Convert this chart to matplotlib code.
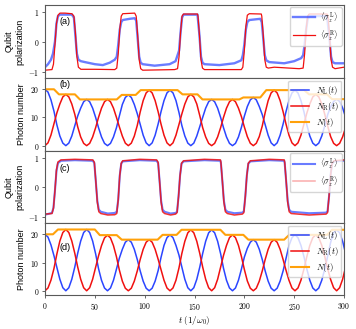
import matplotlib
matplotlib.use('Agg')
import matplotlib.pyplot as plt
from matplotlib.ticker import FuncFormatter

# ---- photon numbers, sampled from the figure ----
T_PH = [0.0, 3.0, 6.0, 9.0, 11.9, 14.9, 17.9, 20.9, 23.9, 26.9,
        29.9, 32.8, 35.8, 38.8, 41.8, 44.8, 47.8, 50.8, 53.7, 56.7,
        59.7, 62.7, 65.7, 68.7, 71.7, 74.6, 77.6, 80.6, 83.6, 86.6,
        89.6, 92.6, 95.5, 98.5, 101.5, 104.5, 107.5, 110.5, 113.5, 116.4,
        119.4, 122.4, 125.4, 128.4, 131.4, 134.4, 137.3, 140.3, 143.3, 146.3,
        149.3, 152.3, 155.3, 158.2, 161.2, 164.2, 167.2, 170.2, 173.2, 176.2,
        179.1, 182.1, 185.1, 188.1, 191.1, 194.1, 197.1, 200.0, 203.0, 206.0,
        209.0, 212.0, 215.0, 218.0, 220.9, 223.9, 226.9, 229.9, 232.9, 235.9,
        238.9, 241.8, 244.8, 247.8, 250.8, 253.8, 256.8, 259.8, 262.7, 265.7,
        268.7, 271.7, 274.7, 277.7, 280.7, 283.6, 286.6, 289.6, 292.6, 295.6,
        298.6, 301.6]

NL_B = [20.0, 19.01, 16.23, 12.23, 7.39, 3.43, 0.90, 0.0, 0.90, 3.43,
        7.07, 10.51, 13.31, 15.59, 16.4, 15.59, 13.31, 10.03, 6.37, 3.09,
        0.81, 0.0, 0.81, 3.09, 6.37, 10.51, 14.61, 17.11, 18.0, 17.11,
        14.61, 11.31, 7.58, 3.71, 0.98, 0.0, 0.98, 3.71, 7.66, 12.04,
        15.99, 18.72, 19.7, 18.72, 15.99, 11.80, 7.15, 3.43, 0.90, 0.0,
        0.90, 3.43, 6.76, 10.03, 13.31, 15.59, 16.4, 15.59, 13.31, 10.03,
        6.37, 3.09, 0.81, 0.0, 0.81, 3.09, 6.53, 10.45, 13.88, 16.25,
        17.1, 16.25, 13.88, 11.00, 7.46, 3.71, 0.98, 0.0, 0.98, 3.71,
        7.66, 12.04, 15.99, 18.72, 19.7, 18.72, 15.99, 12.04, 7.35, 3.43,
        0.90, 0.0, 0.90, 3.43, 7.07, 11.00, 13.80, 15.68, 16.5, 15.68,
        13.39, 10.09]
NR_B = [0.0, 0.99, 3.77, 7.77, 11.61, 14.77, 17.30, 18.2, 17.30, 14.77,
        11.13, 6.69, 3.09, 0.81, 0.0, 0.81, 3.09, 6.37, 10.03, 13.31,
        15.59, 16.4, 15.59, 13.31, 10.03, 6.69, 3.39, 0.89, 0.0, 0.89,
        3.39, 7.19, 11.92, 15.99, 18.72, 19.7, 18.72, 15.99, 12.04, 7.66,
        3.71, 0.98, 0.0, 0.98, 3.71, 7.50, 11.25, 14.77, 17.30, 18.2,
        17.30, 14.77, 10.64, 6.37, 3.09, 0.81, 0.0, 0.81, 3.09, 6.37,
        10.03, 13.31, 15.59, 16.4, 15.59, 13.31, 10.27, 6.65, 3.22, 0.85,
        0.0, 0.85, 3.22, 7.00, 11.74, 15.99, 18.72, 19.7, 18.72, 15.99,
        12.04, 7.66, 3.71, 0.98, 0.0, 0.98, 3.71, 7.66, 11.55, 14.77,
        17.30, 18.2, 17.30, 14.77, 11.13, 7.00, 3.20, 0.82, 0.0, 0.82,
        3.11, 6.41]
NL_D = [20.0, 19.01, 16.23, 12.41, 8.28, 4.09, 1.07, 0.0, 1.07, 4.09,
        8.43, 13.27, 17.61, 20.63, 21.7, 20.63, 17.61, 13.08, 7.85, 3.71,
        0.98, 0.0, 0.98, 3.71, 7.66, 11.55, 14.69, 17.20, 18.1, 17.20,
        14.69, 11.06, 7.04, 3.41, 0.90, 0.0, 0.90, 3.41, 7.11, 11.80,
        16.07, 18.82, 19.8, 18.82, 16.07, 12.65, 8.40, 4.07, 1.07, 0.0,
        1.07, 4.07, 8.40, 13.20, 17.53, 20.53, 21.6, 20.53, 17.53, 13.14,
        7.97, 3.73, 0.98, 0.0, 0.98, 3.73, 7.70, 11.92, 15.02, 17.20,
        18.1, 17.20, 14.69, 11.06, 7.04, 3.41, 0.90, 0.0, 0.90, 3.41,
        7.04, 11.43, 15.99, 18.82, 19.8, 18.82, 16.07, 12.10, 7.70, 3.73,
        0.98, 0.0, 0.98, 3.73, 7.70, 12.23, 17.13, 20.53, 21.6, 20.53,
        17.53, 13.20]
NR_D = [0.0, 0.99, 3.77, 7.89, 13.02, 17.61, 20.63, 21.7, 20.63, 17.61,
        13.27, 8.43, 4.09, 1.07, 0.0, 1.07, 4.09, 8.32, 12.35, 15.99,
        18.72, 19.7, 18.72, 15.99, 12.04, 7.35, 3.41, 0.90, 0.0, 0.90,
        3.41, 7.04, 11.06, 14.69, 17.20, 18.1, 17.20, 14.69, 11.19, 7.50,
        3.73, 0.98, 0.0, 0.98, 3.73, 8.05, 13.20, 17.53, 20.53, 21.6,
        20.53, 17.53, 13.20, 8.40, 4.07, 1.07, 0.0, 1.07, 4.07, 8.36,
        12.53, 16.07, 18.82, 19.8, 18.82, 16.07, 12.10, 7.58, 3.48, 0.90,
        0.0, 0.90, 3.41, 7.04, 11.06, 14.69, 17.20, 18.1, 17.20, 14.69,
        11.06, 7.27, 3.71, 0.98, 0.0, 0.98, 3.73, 7.70, 12.10, 16.07,
        18.82, 19.8, 18.82, 16.07, 12.10, 7.77, 3.97, 1.07, 0.0, 1.07,
        4.07, 8.40]

# total photon number N(t), read at its corners
T_NB = [0, 9, 14, 30, 35, 72, 77, 91, 96, 133, 138, 153, 158, 195, 199, 216,
        222, 260, 265, 283, 288, 300]
N_B = [20.0, 20.0, 18.2, 18.2, 16.4, 16.4, 18.0, 18.0, 19.7, 19.7, 18.2, 18.2,
       16.4, 16.4, 17.1, 17.1, 19.7, 19.7, 18.2, 18.2, 16.5, 16.5]
T_ND = [0, 8, 13, 50, 55, 72, 77, 113, 118, 132, 137, 176, 181, 199, 204, 240,
        245, 283, 288, 300]
N_D = [20.0, 20.0, 21.7, 21.7, 19.7, 19.7, 18.1, 18.1, 19.8, 19.8, 21.6, 21.6,
       19.8, 19.8, 18.1, 18.1, 19.8, 19.8, 21.6, 21.6]

# ---- qubit polarizations ----
T_SZR_A = [0, 7, 8.5, 10, 11.5, 13, 15, 20, 27, 29, 30.5, 32, 33.5, 36, 50, 70,
           72, 73.5, 75, 76.5, 78, 90, 91.5, 93, 94.5, 96, 98, 130, 133, 134.5,
           136, 137.5, 139, 153, 153.5, 155, 156.5, 158, 160, 197, 198.5, 200,
           201.5, 203, 205, 217, 217.5, 219, 220.5, 222, 224, 230, 255, 259,
           260.5, 262, 263.5, 265, 283, 284, 285.5, 287, 288.5, 291, 300]
SZR_A = [-0.95, -0.93, -0.75, -0.1, 0.6, 0.88, 0.95, 0.95, 0.93, 0.85, 0.3, -0.5,
         -0.85, -0.92, -0.92, -0.93, -0.88, -0.4, 0.4, 0.85, 0.93, 0.95, 0.85, 0.2,
         -0.6, -0.9, -0.95, -0.93, -0.9, -0.5, 0.3, 0.85, 0.92, 0.92, 0.85, 0.2,
         -0.6, -0.88, -0.93, -0.93, -0.85, -0.3, 0.5, 0.88, 0.93, 0.92, 0.85, 0.2,
         -0.6, -0.85, -0.88, -0.85, -0.9, -0.88, -0.4, 0.4, 0.85, 0.92, 0.92, 0.85,
         0.2, -0.6, -0.85, -0.9, -0.85]
T_SZL_A = [0, 3, 6, 8, 10, 11.5, 13, 15, 27, 29, 30.5, 32, 33.5, 36, 40, 50, 58,
           65, 70, 72, 73.5, 75, 76.5, 78, 85, 90, 91.5, 93, 94.5, 96, 98, 110,
           125, 131, 134.5, 136, 137.5, 139, 153, 155, 156.5, 158, 160, 175, 190,
           197, 198.5, 200, 201.5, 203, 205, 216, 217.5, 219, 220.5, 222, 225,
           240, 250, 257, 259, 260.5, 262, 263.5, 265, 283, 285.5, 287, 288.5,
           291, 300]
SZL_A = [-0.85, -0.75, -0.6, -0.4, 0.0, 0.6, 0.85, 0.9, 0.9, 0.8, 0.2, -0.4, -0.6,
         -0.65, -0.68, -0.75, -0.78, -0.7, -0.6, -0.5, -0.1, 0.4, 0.65, 0.72, 0.76,
         0.78, 0.7, 0.1, -0.5, -0.7, -0.75, -0.8, -0.75, -0.65, -0.3, 0.3, 0.8, 0.9,
         0.9, 0.2, -0.5, -0.7, -0.75, -0.78, -0.72, -0.62, -0.45, -0.1, 0.4, 0.65,
         0.72, 0.76, 0.65, 0.1, -0.45, -0.62, -0.68, -0.72, -0.65, -0.55, -0.45,
         -0.1, 0.4, 0.75, 0.85, 0.85, 0.1, -0.5, -0.68, -0.72, -0.72]

T_SZ_C = [0, 7, 8.5, 10, 11.5, 13, 16, 30, 48, 49.5, 51, 52.5, 54, 56, 63, 70,
          72, 73.5, 75, 76.5, 78, 95, 112, 113.5, 115, 116.5, 118, 120, 126, 131,
          132.5, 134, 135.5, 137, 139, 160, 176, 176.5, 178, 179.5, 181, 183, 190,
          198, 199.5, 201, 202.5, 204, 206, 225, 240, 240.5, 242, 243.5, 245, 247,
          265, 282, 283.5, 285, 286.5, 288, 290, 300]
SZR_C = [-0.9, -0.88, -0.7, -0.1, 0.6, 0.86, 0.93, 0.95, 0.93, 0.85, 0.2, -0.5,
         -0.82, -0.88, -0.93, -0.92, -0.88, -0.4, 0.4, 0.82, 0.9, 0.95, 0.93, 0.85,
         0.2, -0.5, -0.82, -0.88, -0.93, -0.9, -0.85, -0.3, 0.4, 0.82, 0.9, 0.95,
         0.93, 0.85, 0.2, -0.5, -0.82, -0.88, -0.93, -0.9, -0.85, -0.3, 0.4, 0.82,
         0.9, 0.95, 0.93, 0.85, 0.2, -0.5, -0.82, -0.88, -0.93, -0.9, -0.85, -0.3,
         0.4, 0.82, 0.9, 0.93]
SZL_C = [-0.92, -0.86, -0.68, -0.1, 0.55, 0.82, 0.9, 0.92, 0.9, 0.82, 0.2, -0.45,
         -0.75, -0.82, -0.88, -0.86, -0.82, -0.4, 0.4, 0.8, 0.88, 0.92, 0.9, 0.82,
         0.2, -0.45, -0.75, -0.82, -0.88, -0.86, -0.82, -0.3, 0.4, 0.8, 0.88, 0.92,
         0.9, 0.82, 0.2, -0.45, -0.75, -0.82, -0.87, -0.85, -0.8, -0.3, 0.4, 0.8,
         0.88, 0.92, 0.9, 0.82, 0.2, -0.45, -0.75, -0.82, -0.87, -0.85, -0.8, -0.3,
         0.4, 0.8, 0.88, 0.9]

BLUE = '#2b45ff'
RED = '#f01010'
ORANGE = '#ffa10a'

plt.rcParams['font.family'] = 'Liberation Sans'
plt.rcParams['mathtext.fontset'] = 'cm'

fig = plt.figure(figsize=(3.56, 3.29), dpi=100)
left, width = 0.1264, 0.8399
bounds = [(0.7629, 0.2219), (0.5410, 0.2219), (0.3222, 0.2188), (0.1033, 0.2189)]
axes = [fig.add_axes([left, b, width, h]) for b, h in bounds]
ax_a, ax_b, ax_c, ax_d = axes

math_fmt = FuncFormatter(lambda v, p: f'${v:g}$')
for ax in axes:
    ax.set_xlim(0, 300)
    for s in ax.spines.values():
        s.set_color('0.35')
        s.set_linewidth(0.8)
    ax.tick_params(labelsize=5.5, length=2.5, width=0.6, pad=1.5, color='0.3')
    ax.yaxis.set_major_formatter(math_fmt)
    ax.xaxis.set_major_formatter(math_fmt)
for ax in axes[:3]:
    ax.tick_params(bottom=False, labelbottom=False)

# (a)
ax_a.plot(T_SZL_A, SZL_A, color=BLUE, lw=1.7, alpha=0.7, label=r'$\langle\sigma_z^{\rm L}\rangle$')
ax_a.plot(T_SZR_A, SZR_A, color=RED, lw=0.9, label=r'$\langle\sigma_z^{\rm R}\rangle$')
ax_a.set_ylim(-1.21, 1.22)
ax_a.set_yticks([-1, 0, 1])
ax_a.set_ylabel('Qubit\npolarization', fontsize=6.5, labelpad=3)
ax_a.legend(loc='upper right', fontsize=5.8, handlelength=2.8, borderaxespad=0.3,
            labelspacing=0.35, handletextpad=0.6, borderpad=0.35)
ax_a.text(0.05, 0.74, '(a)', transform=ax_a.transAxes, fontsize=6.5)

# (b)
ax_b.plot(T_PH, NL_B, color=BLUE, lw=1.1, label=r'$N_{\rm L}(t)$')
ax_b.plot(T_PH, NR_B, color=RED, lw=1.1, label=r'$N_{\rm R}(t)$')
ax_b.plot(T_NB, N_B, color=ORANGE, lw=1.5, label=r'$N(t)$')
ax_b.set_ylim(-1.9, 24)
ax_b.set_yticks([0, 10, 20])
ax_b.set_ylabel('Photon number', fontsize=6.5, labelpad=3)
ax_b.legend(loc='upper right', fontsize=6.2, handlelength=2.0, borderaxespad=0.3,
            labelspacing=0.35, handletextpad=0.8, borderpad=0.35)
ax_b.text(0.05, 0.88, '(b)', transform=ax_b.transAxes, fontsize=6.5)

# (c)
ax_c.plot(T_SZ_C, SZL_C, color=BLUE, lw=1.5, alpha=0.7, label=r'$\langle\sigma_z^{\rm L}\rangle$')
ax_c.plot(T_SZ_C, SZR_C, color=RED, lw=1.1, alpha=0.85, label=r'$\langle\sigma_z^{\rm R}\rangle$')
ax_c.set_ylim(-1.2, 1.23)
ax_c.set_yticks([-1, 0, 1])
ax_c.set_ylabel('Qubit\npolarization', fontsize=6.5, labelpad=3)
leg_c = ax_c.legend(loc='upper right', fontsize=5.8, handlelength=2.8, borderaxespad=0.3,
                    labelspacing=0.35, handletextpad=0.6, borderpad=0.35)
leg_c.get_lines()[1].set_alpha(0.35)
ax_c.text(0.05, 0.72, '(c)', transform=ax_c.transAxes, fontsize=6.5)

# (d)
ax_d.plot(T_PH, NL_D, color=BLUE, lw=1.1, label=r'$N_{\rm L}(t)$')
ax_d.plot(T_PH, NR_D, color=RED, lw=1.1, label=r'$N_{\rm R}(t)$')
ax_d.plot(T_ND, N_D, color=ORANGE, lw=1.5, label=r'$N(t)$')
ax_d.set_ylim(-1.5, 24)
ax_d.set_yticks([0, 10, 20])
ax_d.set_xticks([0, 50, 100, 150, 200, 250, 300])
ax_d.set_ylabel('Photon number', fontsize=6.5, labelpad=3)
ax_d.set_xlabel(r'$t\ (1/\omega_0)$', fontsize=6.5, labelpad=1.5)
ax_d.legend(loc='upper right', fontsize=6.2, handlelength=2.0, borderaxespad=0.3,
            labelspacing=0.35, handletextpad=0.8, borderpad=0.35)
ax_d.text(0.05, 0.62, '(d)', transform=ax_d.transAxes, fontsize=6.5)

fig.savefig('out.png', dpi=100)
